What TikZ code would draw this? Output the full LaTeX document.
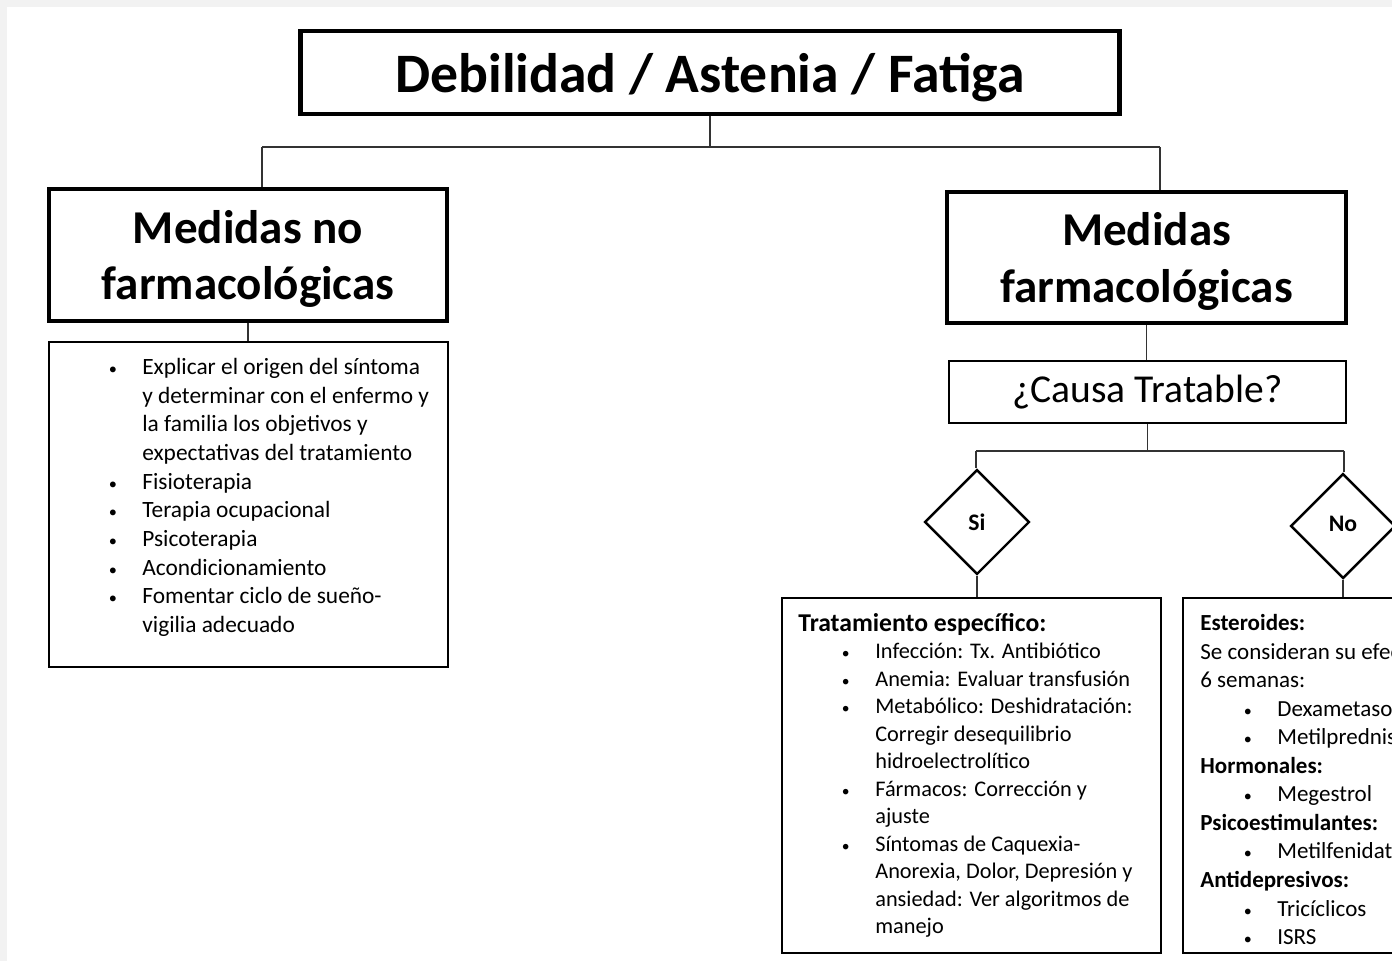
\documentclass[tikz,border=0pt]{standalone}
\usepackage{fontspec}
\usepackage{graphicx}
\setmainfont{Carlito}
\usetikzlibrary{shapes.geometric}
\definecolor{pagegray}{HTML}{F2F2F2}
\newcommand{\bul}{\makebox[0.72cm][l]{\hspace{0.05cm}\scalebox{0.7}{\textbullet}}}
\newcommand{\hangin}{\hspace*{0.72cm}}
\newcommand{\subbul}{\hspace*{0.82cm}\bul}
\newcommand{\subhang}{\hspace*{1.54cm}}

\begin{document}
\begin{tikzpicture}[x=0.02cm,y=-0.02cm,
	titlebox/.style={draw,line width=2.8pt,minimum width=16.4cm,minimum height=1.66cm,text depth=0pt,font=\bfseries\fontsize{31.7}{38}\selectfont},
	medbox/.style={draw,line width=2.2pt,minimum width=7.97cm,minimum height=2.63cm,align=center,text depth=0pt,font=\bfseries\fontsize{26.8}{32.3}\selectfont},
	askbox/.style={draw,line width=1.1pt,minimum width=7.94cm,minimum height=1.24cm,font=\fontsize{22.5}{27}\selectfont},
	decision/.style={draw,diamond,aspect=1,inner sep=0pt,minimum size=2.1cm,line width=1.4pt,font=\bfseries\fontsize{13.5}{16}\selectfont},
	listbox/.style={draw,line width=0.9pt,minimum width=7.58cm,minimum height=7.1cm},
	listtext/.style={anchor=north west,inner sep=0pt,align=left,font=\fontsize{13.3}{16.3}\selectfont},
	link/.style={line width=0.8pt,draw=black!80}]
		\useasboundingbox (0,0) rectangle (1392,961);
		\clip (0,0) rectangle (1392,961);
		\fill[pagegray] (0,0) rectangle (1392,961);
		\fill[white] (7,7) rectangle (1392,961);
		%titulo
		\node[titlebox] (title) at (710,72.5) {Debilidad / Astenia / Fatiga};
		%ramas
		\node[medbox] (noFarm) at (248,255) {Medidas no\\farmacológicas};
		\node[medbox] (farm) at (1146.5,257.5) {Medidas\\farmacológicas};
		\node[listbox,minimum width=7.98cm,minimum height=6.5cm] (listNo) at (248.5,504.5) {};
		\node[listtext] (noFarmText) at (106,358) {\bul Explicar el origen del síntoma\\ \hangin y determinar con el enfermo y\\ \hangin la familia los objetivos y\\ \hangin expectativas del tratamiento\\ \bul Fisioterapia\\ \bul Terapia ocupacional\\ \bul Psicoterapia\\ \bul Acondicionamiento\\ \bul Fomentar ciclo de sueño-\\ \hangin vigilia adecuado};
		\node[askbox] (causa) at (1147.5,392) {¿Causa Tratable?};
		%si / no
		\node[decision] (si) at (977,522) {Si};
		\node[decision] (no) at (1343,526) {\raisebox{0.07cm}{No}};
		\node[listbox] (siBox) at (971.5,775.5) {};
		\node[listbox] (noBox) at (1372.5,775.5) {};
		\node[listtext,font=\fontsize{12.7}{15.65}\selectfont] (siText) at (798,613) {{\bfseries\fontsize{14.6}{15.65}\selectfont Tratamiento específico:}\\ \subbul Infección: Tx. Antibiótico\\ \subbul Anemia: Evaluar transfusión\\ \subbul Metabólico: Deshidratación:\\ \subhang Corregir desequilibrio\\ \subhang hidroelectrolítico\\ \subbul Fármacos: Corrección y\\ \subhang ajuste\\ \subbul Síntomas de Caquexia-\\ \subhang Anorexia, Dolor, Depresión y\\ \subhang ansiedad: Ver algoritmos de\\ \subhang manejo};
		\node[listtext,font=\fontsize{13.1}{16.25}\selectfont] (noText) at (1200,614) {\textbf{Esteroides:}\\ Se consideran su efecto\\ 6 semanas:\\ \subbul Dexametasona\\ \subbul Metilprednisolona\\ \textbf{Hormonales:}\\ \subbul Megestrol\\ \textbf{Psicoestimulantes:}\\ \subbul Metilfenidato\\ \textbf{Antidepresivos:}\\ \subbul Tricíclicos\\ \subbul ISRS};
		%conectores
		\coordinate (topSplit) at (710,147);
		\coordinate (jL) at (262,147);
		\coordinate (jR) at (1160,147);
		\draw[link] (title.south) -- (topSplit);
		\draw[link] (jL) -- (jR);
		\draw[link] (jL) -- (jL |- noFarm.north);
		\draw[link] (jR) -- (jR |- farm.north);
		\draw[link] (noFarm.south) -- (noFarm.south |- listNo.north);
		\draw[link] (farm.south) -- (farm.south |- causa.north);
		\coordinate (jSi) at (976,451);
		\coordinate (jNo) at (1344,451);
		\draw[link] (causa.south) -- (causa.south |- jSi);
		\draw[link] (jSi) -- (jNo);
		\draw[link] (jSi) -- (jSi |- si.north);
		\draw[link] (jNo) -- (jNo |- no.north);
		\draw[link] (si.south) -- (si.south |- siBox.north);
		\draw[link] (no.south) -- (no.south |- noBox.north);
\end{tikzpicture}
\end{document}
